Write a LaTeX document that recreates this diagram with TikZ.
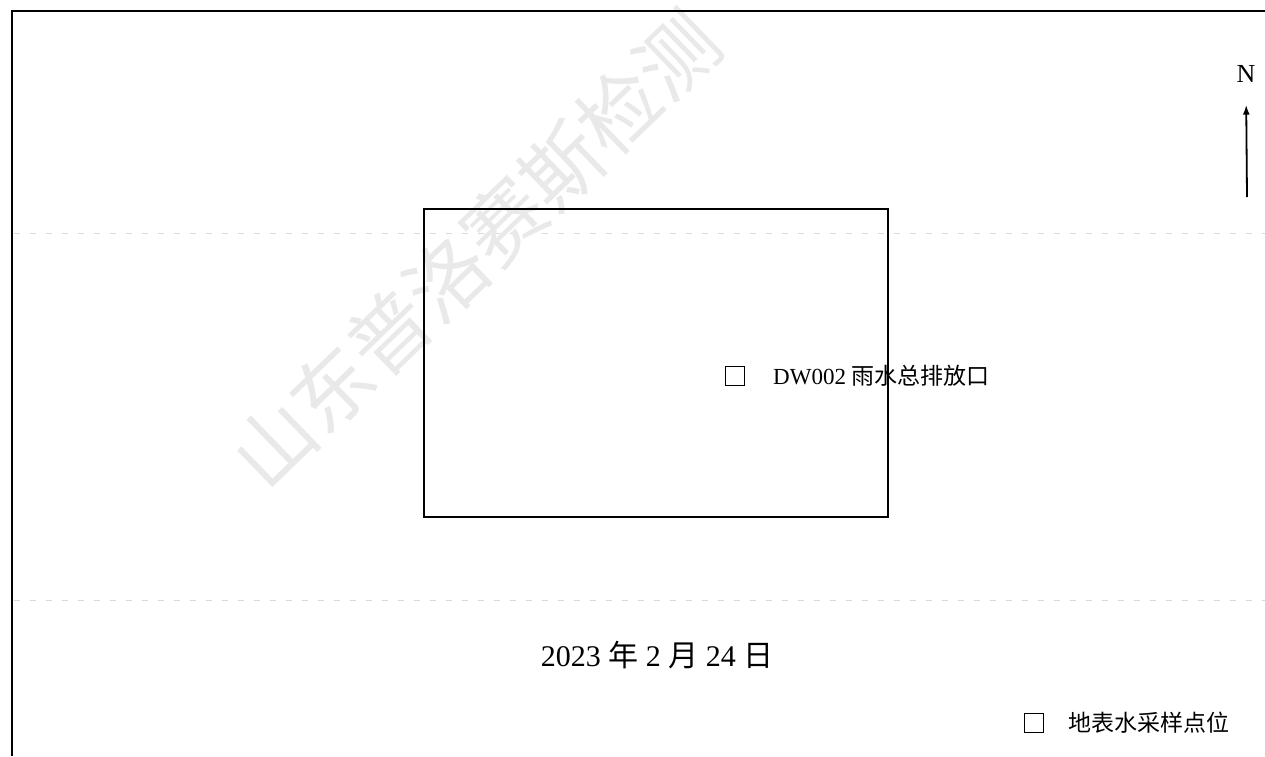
\documentclass[tikz,border=0pt]{standalone}
\usepackage{fontspec}
\setmainfont{Liberation Serif}
\newfontfamily\cjk{Noto Sans CJK SC}
\usetikzlibrary{arrows.meta}
\begin{document}
\begin{tikzpicture}[x=1pt,y=-1pt,
  frame/.style={line width=2pt,black},
  sitebox/.style={draw,line width=2.4pt,minimum width=464pt,minimum height=308pt,inner sep=0pt},
  marker/.style={draw,line width=1.6pt,minimum size=19pt,inner sep=0pt},
  lbl/.style={inner sep=0pt,anchor=west,font=\fontsize{23}{28}\selectfont},
  scanline/.style={gray!30,line width=0.8pt,dash pattern=on 6pt off 10pt},
  wmark/.style={gray!17,inner sep=0pt,font=\cjk\fontsize{80}{90}\selectfont}
]
\useasboundingbox (0,0) rectangle (1265,756);
\fill[white] (0,0) rectangle (1265,756);
% faint scan artefacts
\draw[scanline] (14,233) -- (1265,233);
\draw[scanline] (14,600) -- (1265,600);
% watermark
\node[wmark,rotate=44] (wm) at (476,250) {山东普洛赛斯检测};
% outer frame
\coordinate (fb) at (12,756);
\coordinate (fc) at (12,11);
\coordinate (fr) at (1265,11);
\draw[frame] (fb) -- (fc) -- (fr);
% site
\node[sitebox] (site) at (656,363) {};
% sampling point
\node[marker] (m1) at (735,376) {};
\node[lbl] (m1l) at (773,376) {DW002 {\cjk 雨水总排放口}};
% north arrow
\node[inner sep=0pt,font=\fontsize{26}{30}\selectfont] (N) at (1246,74) {N};
\coordinate (ntail) at (1247,197);
\draw[line width=1.8pt,-{Latex[length=10pt,width=7pt]},shorten >=22pt] (ntail) -- (N.south);
% date
\node[inner sep=0pt,font=\fontsize{30}{36}\selectfont] (date) at (657,655) {2023 {\cjk 年} 2 {\cjk 月} 24 {\cjk 日}};
% legend
\node[marker] (lg) at (1034,723) {};
\node[lbl] (lgl) at (1068,723) {\cjk 地表水采样点位};
\end{tikzpicture}
\end{document}
